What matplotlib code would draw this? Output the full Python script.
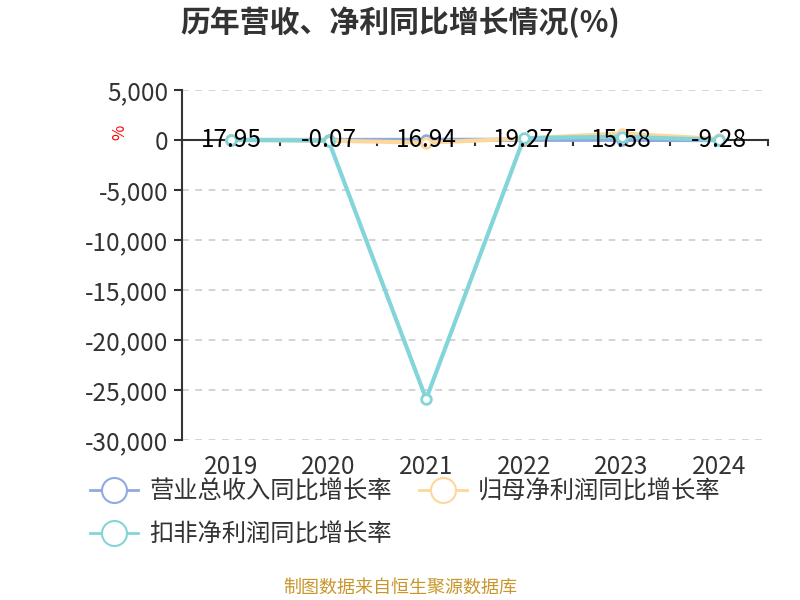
import matplotlib.pyplot as plt
from matplotlib.lines import Line2D

plt.rcParams['font.family'] = ['Noto Sans CJK SC', 'DejaVu Sans']

years = ['2019', '2020', '2021', '2022', '2023', '2024']
revenue_growth = [17.95, -0.07, 16.94, 19.27, 15.58, -9.28]
net_profit_growth = [10, -60, -270, 150, 650, 100]
deducted_growth = [5, -50, -25900, 180, 330, 0]
series_names = ['营业总收入同比增长率', '归母净利润同比增长率', '扣非净利润同比增长率']
colors = ['#8eaadf', '#fdd79b', '#84d5d9']

fig = plt.figure(figsize=(8, 6), dpi=100)
ax = fig.add_axes([182 / 800, 1 - 440 / 600, 586 / 800, 350 / 600])

x = list(range(len(years)))
for vals, c in zip([revenue_growth, net_profit_growth, deducted_growth], colors):
    ax.plot(x, vals, color=c, lw=3, marker='o', ms=7, mfc='white', mec=c, mew=2,
            zorder=3)

for xi, v in zip(x, revenue_growth):
    ax.text(xi, 0, f'{v:.2f}', ha='center', va='center', fontsize=17.5,
            color='black', zorder=5)

ax.set_xlim(-0.5, len(years) - 0.5)
ax.set_ylim(-30000, 5000)
ax.set_yticks(range(-30000, 5001, 5000))
ax.set_yticklabels([f'{v:,}' for v in range(-30000, 5001, 5000)])
ax.grid(axis='y', ls=(0, (4, 4)), color='#cccccc', lw=1.2)
ax.set_axisbelow(True)

for s in ['top', 'right', 'bottom']:
    ax.spines[s].set_visible(False)
ax.spines['left'].set_color('#333333')
ax.spines['left'].set_linewidth(1.5)
ax.tick_params(axis='y', length=6, width=1.5, color='#333333', labelsize=17.5,
               labelcolor='#333333', pad=4)

ax.set_xticks(x)
ax.set_xticklabels(years)
ax.tick_params(axis='x', length=0, labelsize=17.5, labelcolor='#333333', pad=10)

# zero axis line with boundary ticks
ax.axhline(0, color='#333333', lw=1.5, zorder=2)
for b in [i - 0.5 for i in range(len(years) + 1)]:
    ax.plot([b, b], [0, -500], color='#333333', lw=1.5, zorder=2, clip_on=False)

fig.text(120 / 800, 1 - 132 / 600, '%', color='red', fontsize=12, rotation=90,
         ha='center', va='center')

fig.text(0.5, 1 - 22 / 600, '历年营收、净利同比增长情况(%)', ha='center', va='center',
         fontsize=21.5, fontweight='bold', color='#333333')

handles = [Line2D([0], [0], color=c, lw=2, marker='o', ms=18, mfc='white', mec=c,
                  mew=1.5) for c in colors]
fig.legend(handles[:2], series_names[:2], loc='center left',
           bbox_to_anchor=(80 / 800, 1 - 492 / 600), ncol=2, frameon=False,
           fontsize=17.5, handlelength=2.0, columnspacing=1.1,
           handletextpad=0.45, labelcolor='#333333', borderaxespad=0)
fig.legend(handles[2:], series_names[2:], loc='center left',
           bbox_to_anchor=(80 / 800, 1 - 535 / 600), frameon=False,
           fontsize=17.5, handlelength=2.0, handletextpad=0.45,
           labelcolor='#333333', borderaxespad=0)

fig.text(0.5, 1 - 588 / 600, '制图数据来自恒生聚源数据库', ha='center', va='center',
         fontsize=13, color='#c9962b')

fig.savefig('out.png', dpi=100)
